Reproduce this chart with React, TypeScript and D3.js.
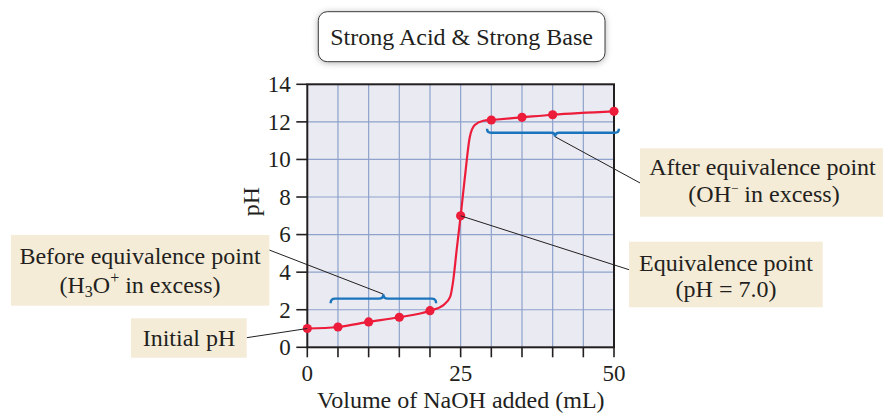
import React from "react";
import * as d3 from "d3";

// ---- data ----
const pointVolumes = [0, 5, 10, 15, 20, 25, 30, 35, 40, 50];
const pointPH = [1.0, 1.08, 1.35, 1.6, 1.95, 7.0, 12.1, 12.24, 12.38, 12.56];

// smooth titration curve
const curveVolumes = [0, 5, 10, 15, 20, 22.2, 23.3, 23.8, 24.35, 25, 25.7, 26.5, 27.3, 28.7, 30, 35, 40, 50];
const curvePH = [1.0, 1.08, 1.35, 1.6, 1.95, 2.25, 2.7, 3.58, 5.18, 7.0, 9.08, 11.21, 11.83, 12.06, 12.1, 12.24, 12.38, 12.56];

const xTickValues = [0, 5, 10, 15, 20, 25, 30, 35, 40, 45, 50];
const xTickLabels = ["0", "", "", "", "", "25", "", "", "", "", "50"];
const yTickValues = [0, 2, 4, 6, 8, 10, 12, 14];

const titleText = "Strong Acid & Strong Base";
const xTitle = "Volume of NaOH added (mL)";
const yTitle = "pH";

// braces: [x start, x end, y level, tip x] in data units
const beforeBrace = [3.8, 21.0, 2.59, 12.4];
const afterBrace = [29.3, 50.8, 11.42, 40.4];

const W = 883;
const H = 413;
const FONT = "'Liberation Serif', 'Times New Roman', serif";
const TXT = "#231f20";
const BOX = "#f5ecd8";
const FS = 24;

function bracePath(x1: number, x2: number, y: number, tip: number, d: number, h: number) {
  return [
    `M${x1},${y + d * h}`,
    `Q${x1},${y} ${x1 + h},${y}`,
    `L${tip - h},${y}`,
    `Q${tip},${y} ${tip},${y - d * h}`,
    `Q${tip},${y} ${tip + h},${y}`,
    `L${x2 - h},${y}`,
    `Q${x2},${y} ${x2},${y + d * h}`,
  ].join(" ");
}

export default function App() {
  const x = d3.scaleLinear().domain([0, 50]).range([307.3, 614]);
  const y = d3.scaleLinear().domain([0, 14]).range([347.3, 84.3]);

  const curvePts: [number, number][] = curveVolumes.map((v, i) => [v, curvePH[i]]);
  const line = d3
    .line<[number, number]>()
    .x((d) => x(d[0]))
    .y((d) => y(d[1]))
    .curve(d3.curveMonotoneX);

  const gridX = xTickValues.slice(1, -1);
  const gridY = yTickValues.slice(1, -1);

  const eqX = x(pointVolumes[5]);
  const eqY = y(pointPH[5]);
  const initX = x(pointVolumes[0]);
  const initY = y(pointPH[0]);

  const bb = beforeBrace;
  const ab = afterBrace;
  const bTipX = x(bb[3]);
  const bTipY = y(bb[2]) - 4.5;
  const aTipX = x(ab[3]);
  const aTipY = y(ab[2]) + 4;

  return (
    <svg
      width={W}
      height={H}
      viewBox={`0 0 ${W} ${H}`}
      style={{ position: "absolute", left: 0, top: 0, background: "#fff" }}
      fontFamily={FONT}
    >
      <defs>
        <filter id="shadow" x="-20%" y="-40%" width="140%" height="180%">
          <feDropShadow dx="0" dy="1" stdDeviation="3" floodColor="#000" floodOpacity="0.3" />
        </filter>
      </defs>

      {/* title */}
      <rect x={318.3} y={11.7} width={286.7} height={50} rx={9} fill="#fff" stroke="#3a3a3a" strokeWidth={1} filter="url(#shadow)" />
      <text x={461.6} y={45} textAnchor="middle" fontSize={FS} fill={TXT}>
        {titleText}
      </text>

      {/* plot background */}
      <rect x={x(0)} y={y(14)} width={x(50) - x(0)} height={y(0) - y(14)} fill="#e9eaf2" />

      {/* grid */}
      {gridX.map((v) => (
        <line key={"gx" + v} x1={x(v)} x2={x(v)} y1={y(0)} y2={y(14)} stroke="#8ea2cb" strokeWidth={1.2} />
      ))}
      {gridY.map((v) => (
        <line key={"gy" + v} x1={x(0)} x2={x(50)} y1={y(v)} y2={y(v)} stroke="#8ea2cb" strokeWidth={1.2} />
      ))}

      {/* frame */}
      <rect x={x(0)} y={y(14)} width={x(50) - x(0)} height={y(0) - y(14)} fill="none" stroke="#231f20" strokeWidth={2} />

      {/* x ticks */}
      {xTickValues.map((v, i) => (
        <g key={"xt" + v}>
          <line x1={x(v)} x2={x(v)} y1={y(0)} y2={y(0) + 10} stroke="#231f20" strokeWidth={1.6} />
          {xTickLabels[i] && (
            <text x={x(v)} y={381} textAnchor="middle" fontSize={23} fill={TXT}>
              {xTickLabels[i]}
            </text>
          )}
        </g>
      ))}

      {/* y ticks */}
      {yTickValues.map((v) => (
        <g key={"yt" + v}>
          <line x1={x(0) - 11} x2={x(0)} y1={y(v)} y2={y(v)} stroke="#231f20" strokeWidth={1.6} />
          <text x={290.7} y={y(v) + 7.8} textAnchor="end" fontSize={23} fill={TXT}>
            {v}
          </text>
        </g>
      ))}

      {/* axis titles */}
      <text x={460.8} y={407.5} textAnchor="middle" fontSize={FS} fill={TXT}>
        {xTitle}
      </text>
      <text transform="translate(259,201.7) rotate(-90)" textAnchor="middle" fontSize={FS} fill={TXT}>
        {yTitle}
      </text>

      {/* curve */}
      <path d={line(curvePts) || ""} fill="none" stroke="#ec1c3a" strokeWidth={2.2} />
      {pointVolumes.map((v, i) => (
        <circle key={"p" + v} cx={x(v)} cy={y(pointPH[i])} r={4.6} fill="#ec1c3a" />
      ))}

      {/* braces */}
      <path d={bracePath(x(bb[0]), x(bb[1]), y(bb[2]), bTipX, 1, 4.5)} fill="none" stroke="#1b75bc" strokeWidth={2.4} />
      <path d={bracePath(x(ab[0]), x(ab[1]), y(ab[2]), aTipX, -1, 4)} fill="none" stroke="#1b75bc" strokeWidth={2.4} />

      {/* leader lines */}
      <line x1={246.7} y1={337.7} x2={initX} y2={initY} stroke="#231f20" strokeWidth={1} />
      <line x1={269.3} y1={250} x2={bTipX} y2={bTipY} stroke="#231f20" strokeWidth={1} />
      <line x1={eqX} y1={eqY} x2={630} y2={270} stroke="#231f20" strokeWidth={1} />
      <line x1={aTipX} y1={aTipY} x2={640.7} y2={183.3} stroke="#231f20" strokeWidth={1} />

      {/* label: before */}
      <rect x={11} y={235} width={258.3} height={70.7} fill={BOX} />
      <text x={140} y={263.5} textAnchor="middle" fontSize={FS} fill={TXT}>
        Before equivalence point
      </text>
      <text x={140} y={293} textAnchor="middle" fontSize={FS} fill={TXT}>
        (H<tspan fontSize={16} dy={4}>3</tspan>
        <tspan dy={-4}>O</tspan>
        <tspan fontSize={16} dy={-10}>+</tspan>
        <tspan dy={10}> in excess)</tspan>
      </text>

      {/* label: initial */}
      <rect x={131} y={318.3} width={115.7} height={39.4} fill={BOX} />
      <text x={189} y={345.5} textAnchor="middle" fontSize={FS} fill={TXT}>
        Initial pH
      </text>

      {/* label: equivalence */}
      <rect x={629} y={241.7} width={193.7} height={65.6} fill={BOX} />
      <text x={726} y={270.5} textAnchor="middle" fontSize={FS} fill={TXT}>
        Equivalence point
      </text>
      <text x={726} y={297} textAnchor="middle" fontSize={FS} fill={TXT}>
        (pH = 7.0)
      </text>

      {/* label: after */}
      <rect x={640} y={148.3} width={243} height={68.4} fill={BOX} />
      <text x={762.5} y={175} textAnchor="middle" fontSize={FS} fill={TXT}>
        After equivalence point
      </text>
      <text x={764} y={202} textAnchor="middle" fontSize={FS} fill={TXT}>
        (OH<tspan fontSize={13} dy={-9}>−</tspan>
        <tspan dy={9}> in excess)</tspan>
      </text>
    </svg>
  );
}
